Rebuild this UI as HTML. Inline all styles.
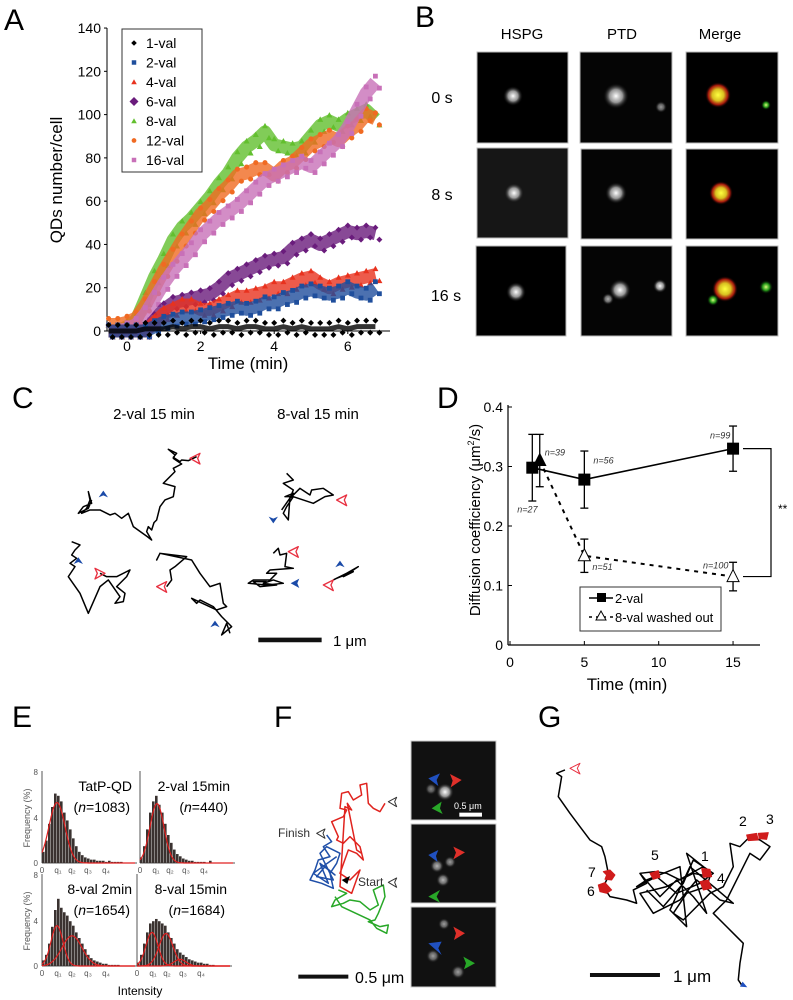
<!DOCTYPE html>
<html><head><meta charset="utf-8">
<style>
html,body{margin:0;padding:0;background:#fff;}
svg{display:block;font-family:"Liberation Sans",Arial,sans-serif;}
</style></head>
<body>
<svg id="fig" width="793" height="1000" viewBox="0 0 793 1000" xmlns="http://www.w3.org/2000/svg">
<defs>
 <radialGradient id="gw"><stop offset="0" stop-color="#fff"/><stop offset="0.5" stop-color="#bbb" stop-opacity="0.8"/><stop offset="1" stop-color="#000" stop-opacity="0"/></radialGradient>
 <radialGradient id="gy"><stop offset="0" stop-color="#ffff40"/><stop offset="0.45" stop-color="#d8c020"/><stop offset="0.75" stop-color="#d02010" stop-opacity="0.8"/><stop offset="1" stop-color="#000" stop-opacity="0"/></radialGradient>
 <radialGradient id="gg"><stop offset="0" stop-color="#e0ff80"/><stop offset="0.5" stop-color="#30c020" stop-opacity="0.8"/><stop offset="1" stop-color="#000" stop-opacity="0"/></radialGradient>
</defs>

<g font-size="30" fill="#000">
 <text x="4" y="30">A</text>
 <text x="415" y="27">B</text>
 <text x="12" y="408">C</text>
 <text x="437" y="408">D</text>
 <text x="12" y="727">E</text>
 <text x="274" y="727">F</text>
 <text x="538" y="727">G</text>
</g>

<g id="panelA"></g>

<g id="panelB" font-size="15">
 <text x="522" y="39" text-anchor="middle">HSPG</text>
 <text x="622" y="39" text-anchor="middle">PTD</text>
 <text x="720" y="39" text-anchor="middle">Merge</text>
 <text x="442" y="103" text-anchor="middle" font-size="16">0 s</text>
 <text x="442" y="200" text-anchor="middle" font-size="16">8 s</text>
 <text x="446" y="301" text-anchor="middle" font-size="16">16 s</text>
 <rect x="477" y="52" width="91" height="91" fill="#000" stroke="#bbb"/>
 <rect x="580" y="52" width="92" height="91" fill="#050505" stroke="#bbb"/>
 <rect x="686" y="52" width="92" height="91" fill="#000" stroke="#bbb"/>
 <rect x="477" y="148" width="91" height="90" fill="#161616" stroke="#bbb"/>
 <rect x="581" y="149" width="91" height="90" fill="#050505" stroke="#bbb"/>
 <rect x="686" y="149" width="92" height="90" fill="#000" stroke="#bbb"/>
 <rect x="476" y="246" width="90" height="90" fill="#000" stroke="#bbb"/>
 <rect x="581" y="246" width="91" height="90" fill="#050505" stroke="#bbb"/>
 <rect x="686" y="246" width="92" height="90" fill="#000" stroke="#bbb"/>
 <circle cx="513" cy="96" r="10" fill="url(#gw)"/>
 <circle cx="616" cy="96" r="13" fill="url(#gw)"/>
 <circle cx="661" cy="107" r="6" fill="url(#gw)" opacity="0.6"/>
 <circle cx="718" cy="95" r="13" fill="url(#gy)"/>
 <circle cx="766" cy="105" r="5" fill="url(#gg)"/>
 <circle cx="514" cy="193" r="10" fill="url(#gw)"/>
 <circle cx="616" cy="193" r="11" fill="url(#gw)"/>
 <circle cx="721" cy="193" r="12" fill="url(#gy)"/>
 <circle cx="516" cy="292" r="10" fill="url(#gw)"/>
 <circle cx="620" cy="290" r="11" fill="url(#gw)"/>
 <circle cx="608" cy="299" r="6" fill="url(#gw)" opacity="0.7"/>
 <circle cx="660" cy="286" r="7" fill="url(#gw)"/>
 <circle cx="725" cy="289" r="13" fill="url(#gy)"/>
 <circle cx="713" cy="300" r="6" fill="url(#gg)"/>
 <circle cx="766" cy="287" r="7" fill="url(#gg)"/>
</g>

<g>
 <text x="154" y="419" font-size="15" text-anchor="middle">2-val 15 min</text>
 <text x="318" y="419" font-size="15" text-anchor="middle">8-val 15 min</text>
 <g transform="translate(0,340) scale(0.3333)" fill="none" stroke="#000" stroke-width="4.5" stroke-linejoin="round">
  <polyline points="590,350 565,362 545,360 540,365 520,352 530,340 505,328 525,345 520,355 545,372 520,385 525,395 490,430 525,440 520,470 495,480 480,500 475,520 470,540 462,548 455,570 445,560 440,575 455,600 442,590 400,560 385,520 365,535 345,520 330,525 300,510 270,510 245,520 260,505 270,480 265,455 275,490 250,500 235,520 265,505 275,480"/>
  <polyline points="215,605 240,615 225,630 215,645 230,655 210,670 225,680 205,710 240,760 265,820 300,740 325,720 360,770 345,790 370,785 375,760 350,740 380,710 390,690 350,710 320,710 300,700"/>
  <polyline points="500,740 515,720 510,690 525,680 560,650 520,645 480,640 470,660 480,640 575,660 600,700 630,740 660,730 670,790 680,800 650,810 575,775 590,790 600,780 640,800 665,830 695,860 665,885 680,850 690,880"/>
  <polyline points="860,400 880,420 850,430 880,450 870,475 900,445 930,465 935,450 970,445 1000,465 975,470 940,490 880,470 860,500 850,520 865,540 870,470 855,470 880,460 845,510"/>
  <polyline points="820,640 835,625 840,645 860,640 855,680 880,685 810,690 800,700 830,700 810,720 760,720 745,730 800,735 850,730 820,720 790,730 830,735 780,740 760,725 800,725"/>
  <polyline points="1000,720 1040,700 1075,680 1030,710 1060,695 1010,715"/>
  <g fill="none" stroke="#e83040" stroke-width="4">
   <polygon points="570,355 600,340 593,355 600,372"/>
   <polygon points="1010,480 1040,465 1033,480 1040,497"/>
   <polygon points="865,635 895,620 888,635 895,652"/>
   <polygon points="315,700 285,685 292,700 285,717"/>
   <polygon points="470,740 500,725 493,740 500,757"/>
   <polygon points="970,735 1000,720 993,735 1000,752"/>
  </g>
  <g fill="#1a4aa8" stroke="none">
   <polygon points="310,452 296,472 310,466 324,472"/>
   <polygon points="235,652 221,672 235,666 249,672"/>
   <polygon points="645,842 631,862 645,856 659,862"/>
   <polygon points="1020,662 1006,682 1020,676 1034,682"/>
   <polygon points="820,550 806,530 820,536 834,530"/>
   <polygon points="872,730 898,716 892,730 898,744"/>
  </g>
  <line x1="775" y1="900" x2="965" y2="900" stroke="#111" stroke-width="14"/>
 </g>
 <text x="333" y="646" font-size="15">1 μm</text>
</g>

<g id="panelD"></g>
<g id="panelE"></g>

<g>
 <g transform="translate(260,680) scale(0.3333)" fill="none" stroke-width="4.5" stroke-linejoin="round">
  <polyline stroke="#e0231e" points="375,370 360,395 340,385 325,370 320,310 300,315 305,345 280,360 265,335 245,340 240,385 260,390 250,410 215,425 235,470 230,480 250,490 270,470 300,500 310,540 290,520 265,510 240,580 270,600 290,580 300,570 275,640 240,620 255,380 275,390 262,370 290,510 305,520"/>
  <polyline stroke="#1f4fa8" points="200,465 215,485 190,500 210,530 175,540 165,570 150,600 185,610 220,625 210,580 230,550 240,520 200,500 180,520 220,600 170,590 195,560 225,585 180,550 205,610 160,580 230,530"/>
  <polyline stroke="#28a828" points="235,630 260,640 225,660 215,680 250,670 270,660 300,665 330,690 355,675 340,630 370,615 375,650 355,700 345,720 325,725 360,740 385,735 380,760 350,745 330,720 245,680 225,650"/>
  <polygon points="245,600 270,588 262,612" fill="#000" stroke="none"/>
  <g stroke="#333" stroke-width="3">
   <polygon points="385,365 410,352 404,365 410,380"/>
   <polygon points="170,460 195,447 189,460 195,475"/>
   <polygon points="385,607 410,594 404,607 410,622"/>
  </g>
  <line x1="115" y1="890" x2="265" y2="890" stroke="#111" stroke-width="12"/>
 </g>
 <text x="278" y="837" font-size="12" fill="#333">Finish</text>
 <text x="358" y="886" font-size="12" fill="#333">Start</text>
 <text x="355" y="983" font-size="16">0.5 μm</text>
 <rect x="411" y="741" width="85" height="79" fill="#111" stroke="#ccc"/>
 <rect x="411" y="824" width="85" height="79" fill="#111" stroke="#ccc"/>
 <rect x="411" y="907" width="85" height="80" fill="#111" stroke="#ccc"/>
 <circle cx="445" cy="792" r="9" fill="url(#gw)"/>
 <circle cx="431" cy="789" r="6" fill="url(#gw)" opacity="0.5"/>
 <circle cx="437" cy="866" r="7" fill="url(#gw)" opacity="0.7"/>
 <circle cx="443" cy="880" r="7" fill="url(#gw)" opacity="0.7"/>
 <circle cx="450" cy="862" r="6" fill="url(#gw)" opacity="0.6"/>
 <circle cx="444" cy="924" r="6" fill="url(#gw)" opacity="0.6"/>
 <circle cx="433" cy="956" r="7" fill="url(#gw)" opacity="0.6"/>
 <circle cx="458" cy="972" r="7" fill="url(#gw)" opacity="0.6"/>
 <g transform="translate(260,680) scale(0.3333)" stroke="none">
  <polygon points="505,295 540,280 530,300 535,318" fill="#2050c0"/>
  <polygon points="605,300 570,282 578,302 572,322" fill="#e0302a"/>
  <polygon points="515,385 545,365 540,385 548,402" fill="#28a828"/>
  <rect x="598" y="398" width="68" height="12" fill="#fff"/>
  <polygon points="505,525 535,510 528,528 533,546" fill="#2050c0"/>
  <polygon points="615,517 580,500 588,518 580,538" fill="#e0302a"/>
  <polygon points="505,650 540,630 530,650 540,668" fill="#28a828"/>
  <polygon points="505,790 545,785 535,805 545,825" fill="#2050c0"/>
  <polygon points="615,760 580,740 588,760 582,780" fill="#e0302a"/>
  <polygon points="645,850 610,830 618,850 612,868" fill="#28a828"/>
 </g>
 <text x="454" y="809" font-size="9" fill="#fff">0.5 μm</text>
</g>

<g>
 <g transform="translate(260,680) scale(0.3333)" fill="none" stroke="#000" stroke-width="4.5" stroke-linejoin="round">
  <polyline points="915,270 890,280 905,290 895,350 930,400 960,440 990,480 1025,500 1035,530 1045,580 1040,600 1030,620 1050,650 1100,660 1130,670 1120,630 1160,610 1140,580 1185,575 1220,580 1260,600 1300,580 1350,590 1340,620 1280,640 1240,700 1270,720 1300,690 1350,640 1390,620 1420,560 1410,490 1440,500 1470,470 1500,480 1530,500 1500,540 1470,520 1440,580 1400,660 1360,700 1400,740 1420,760 1450,790 1440,850 1435,900 1445,915"/>
  <polyline points="1140,580 1200,650 1250,600 1300,650 1340,700 1280,520 1330,560 1220,620 1140,640 1180,700 1260,660 1310,600 1380,660 1420,670 1290,560 1230,690 1280,740 1260,560 1160,600 1130,620 1190,590 1250,640 1320,610 1360,580 1300,540 1270,610 1210,680 1160,630"/>
  <polygon points="930,265 960,250 952,265 960,282" stroke="#e83040" stroke-width="3"/>
  <g fill="#d01c1c" stroke="#d01c1c" stroke-width="3">
   <polygon points="1030,575 1050,570 1065,585 1055,600 1035,598 1040,585"/>
   <polygon points="1015,615 1035,608 1055,630 1040,640 1020,635"/>
   <polygon points="1170,580 1195,572 1200,592 1180,598"/>
   <polygon points="1325,565 1350,568 1355,590 1330,592"/>
   <polygon points="1320,605 1345,600 1355,625 1330,630"/>
   <polygon points="1460,465 1490,460 1495,480 1465,482"/>
   <polygon points="1495,460 1525,458 1520,478 1498,476"/>
  </g>
  <polygon points="1440,920 1462,922 1448,905" fill="#2050c0" stroke="none"/>
  <line x1="990" y1="885" x2="1200" y2="885" stroke="#111" stroke-width="12"/>
 </g>
 <g font-size="14">
  <text x="739" y="826">2</text>
  <text x="766" y="824">3</text>
  <text x="651" y="860">5</text>
  <text x="701" y="861">1</text>
  <text x="717" y="883">4</text>
  <text x="588" y="877">7</text>
  <text x="587" y="896">6</text>
 </g>
 <text x="673" y="982" font-size="17">1 μm</text>
</g>

<script>
// ---------- Panel A data ----------
const aTimes = [-0.5,-0.25,0,0.25,0.5,0.75,1,1.25,1.5,1.75,2,2.25,2.5,2.75,3,3.25,3.5,3.75,4,4.25,4.5,4.75,5,5.25,5.5,5.75,6,6.25,6.5,6.75];
const aNames = ["1-val","2-val","4-val","6-val","8-val","12-val","16-val"];
const val1  = [0,0,0,0,1,1,1,2,1,2,2,1,2,2,1,2,2,1,1,2,1,2,1,1,1,2,1,2,2,2];
const val2  = [0,0,0,0,0,2,4,5,6,6,7,8,9,10,11,10,11,13,13,15,16,18,19,18,17,18,20,18,17,20];
const val4  = [0,0,0,0,0,4,8,10,12,12,10,10,12,14,16,16,17,18,20,20,22,24,25,22,20,22,23,24,25,26];
const val6  = [0,0,0,0,0,5,10,13,14,15,16,17,20,24,26,28,30,32,33,34,38,40,42,40,42,44,46,45,46,45];
const val8  = [0,0,2,5,15,25,33,42,48,52,57,62,68,73,80,85,88,92,86,85,84,85,90,95,97,95,98,100,102,98];
const val12 = [3,3,4,6,12,20,28,35,42,48,54,58,63,67,72,73,75,75,72,76,78,82,86,88,90,88,92,95,100,98];
const val16 = [0,0,1,3,8,15,22,28,33,38,44,48,52,55,58,62,66,70,72,74,76,78,76,80,84,88,94,102,110,115];
const aYTicks = [0,20,40,60,80,100,120,140];
const aXTicks = [0,2,4,6];

// ---------- Panel D data ----------
const dTimes2 = [1.5,5,15];
const dVals2 = [0.298,0.278,0.33];
const dErr2 = [0.056,0.048,0.038];
const dN2 = ["n=27","n=56","n=99"];
const dTimes8 = [2,5,15];
const dVals8 = [0.31,0.15,0.115];
const dErr8 = [0.044,0.028,0.024];
const dN8 = ["n=39","n=51","n=100"];
const dYTicks = [0,0.1,0.2,0.3,0.4];
const dXTicks = [0,5,10,15];

// ---------- Panel E data ----------
const eTitles = ["TatP-QD","2-val 15min","8-val 2min","8-val 15min"];
const eCounts = ["1083","440","1654","1684"];
const eHist1 = [1,2,3.5,5,6.2,6,5.5,4.5,3.8,3,2.2,1.5,1,0.7,0.5,0.4,0.3,0.3,0.2,0.2,0.2,0.1,0.2,0.1,0.1,0.1,0.1,0,0,0];
const eHist2 = [0.5,1.5,3,4.5,5.5,6,5.2,4.5,3.5,2.5,1.8,1.2,0.8,0.6,0.4,0.3,0.2,0.2,0.1,0.1,0.1,0.1,0,0.2,0,0,0,0,0,0];
const eHist3 = [0.5,1,2,3.5,5,6,5.2,4.8,4.5,4,3.6,3,2.5,2,1.5,1,0.7,0.5,0.4,0.3,0.2,0.2,0.1,0.1,0.1,0.1,0,0,0,0];
const eHist4 = [0.3,1,2,3,3.8,4,4.2,4,3.8,3.6,3,2.5,2,1.5,1.2,1,0.8,0.6,0.5,0.4,0.3,0.3,0.2,0.2,0.1,0.1,0,0,0,0];

const NS = "http://www.w3.org/2000/svg";
function mk(parent, tag, attrs, text){
  const el = document.createElementNS(NS, tag);
  for (const k in attrs) el.setAttribute(k, attrs[k]);
  if (text !== undefined) el.textContent = text;
  parent.appendChild(el);
  return el;
}

// ---------- Panel A ----------
(function(){
  const g = document.getElementById('panelA');
  const x = t => 127 + t*36.8;
  const y = v => 331 - v*2.164;
  mk(g,'line',{x1:107,y1:28,x2:107,y2:331,stroke:'#000','stroke-width':1});
  mk(g,'line',{x1:107,y1:331,x2:390,y2:331,stroke:'#000','stroke-width':1});
  aYTicks.forEach(v=>{
    mk(g,'line',{x1:104,y1:y(v),x2:107,y2:y(v),stroke:'#000'});
    const t = mk(g,'text',{x:101,y:y(v)+5,'font-size':14,'text-anchor':'end'},String(v));
    
    
  });
  aXTicks.forEach(v=>{
    mk(g,'line',{x1:x(v),y1:331,x2:x(v),y2:334,stroke:'#000'});
    const t = mk(g,'text',{x:x(v),y:351,'font-size':14,'text-anchor':'middle'},String(v));
    
    
  });
  const xt = mk(g,'text',{x:248,y:369,'font-size':17,'text-anchor':'middle'},'Time (min)');
  
  
  const yt = mk(g,'text',{x:0,y:0,'font-size':17,'text-anchor':'middle',transform:'translate(62,180) rotate(-90)'},'QDs number/cell');
  
  

  const series = [
    {vals:val8,color:'#62bf2e',m:'tri',name:'8-val'},
    {vals:val12,color:'#f06a22',m:'circ',name:'12-val'},
    {vals:val16,color:'#c870b8',m:'sq',name:'16-val'},
    {vals:val6,color:'#6a1c7c',m:'dia',name:'6-val'},
    {vals:val4,color:'#e8321e',m:'tri',name:'4-val'},
    {vals:val2,color:'#1f4e9c',m:'sq',name:'2-val'},
    {vals:val1,color:'#000',m:'dia',name:'1-val'}
  ];
  function marker(p, type, cx, cy, col, s){
    if(type==='tri') return mk(p,'polygon',{points:`${cx},${cy-s} ${cx-s},${cy+s*0.8} ${cx+s},${cy+s*0.8}`,fill:col});
    if(type==='circ') return mk(p,'circle',{cx:cx,cy:cy,r:s*0.85,fill:col});
    if(type==='sq') return mk(p,'rect',{x:cx-s*0.8,y:cy-s*0.8,width:s*1.6,height:s*1.6,fill:col});
    return mk(p,'polygon',{points:`${cx},${cy-s} ${cx+s},${cy} ${cx},${cy+s} ${cx-s},${cy}`,fill:col});
  }
  series.forEach(s=>{
    const sg = mk(g,'g',{});
    
    
    const pts = aTimes.map((t,i)=>x(t)+','+y(s.vals[i])).join(' ');
    mk(sg,'polyline',{points:pts,fill:'none',stroke:s.color,'stroke-width':s.name==='1-val'?5:13,'stroke-linejoin':'round','stroke-opacity':0.8});
    aTimes.forEach((t,i)=>{
      const m = marker(sg,s.m,x(t),y(s.vals[i])-6,s.color,3);
      
      
      const m2 = marker(sg,s.m,x(t)+4,y(s.vals[i])+6,s.color,3);
      
      
    });
  });
  const lg = mk(g,'g',{});
  
  
  mk(lg,'rect',{x:122,y:29,width:80,height:143,fill:'#fff',stroke:'#333','stroke-width':1});
  const legM = [['dia','#000'],['sq','#1f4e9c'],['tri','#e8321e'],['dia','#6a1c7c'],['tri','#62bf2e'],['circ','#f06a22'],['sq','#c870b8']];
  aNames.forEach((n,i)=>{
    const yy = 43 + i*19.5;
    const sz = n==='6-val'?4.5:2.8;
    marker(lg,legM[i][0],134,yy,legM[i][1],sz);
    const t = mk(lg,'text',{x:146,y:yy+5,'font-size':14},n);
    
    
  });
})();

// ---------- Panel D ----------
(function(){
  const g = document.getElementById('panelD');
  const x = t => 510 + t*14.87;
  const y = v => 645 - v*595;
  mk(g,'line',{x1:508,y1:405,x2:508,y2:645,stroke:'#000','stroke-width':1.2});
  mk(g,'line',{x1:508,y1:645,x2:760,y2:645,stroke:'#000','stroke-width':1.2});
  dYTicks.forEach(v=>{
    mk(g,'line',{x1:508,y1:y(v),x2:512,y2:y(v),stroke:'#000'});
    const t = mk(g,'text',{x:503,y:y(v)+5,'font-size':14,'text-anchor':'end'},String(v));
    
    
  });
  dXTicks.forEach(v=>{
    mk(g,'line',{x1:x(v),y1:645,x2:x(v),y2:641,stroke:'#000'});
    const t = mk(g,'text',{x:x(v),y:667,'font-size':14,'text-anchor':'middle'},String(v));
    
    
  });
  const xt = mk(g,'text',{x:627,y:690,'font-size':17,'text-anchor':'middle'},'Time (min)');
  
  
  const yt = mk(g,'text',{x:0,y:0,'font-size':15,'text-anchor':'middle',transform:'translate(480,520) rotate(-90)'});
  
  
  mk(yt,'tspan',{},'Diffusion coefficiency (μm');
  mk(yt,'tspan',{'font-size':9,dy:-6},'2');
  mk(yt,'tspan',{dy:6},'/s)');
  const l8 = mk(g,'polyline',{points:dTimes8.map((t,i)=>x(t)+','+y(dVals8[i])).join(' '),fill:'none',stroke:'#000','stroke-width':2,'stroke-dasharray':'4,5'});
  
  
  const l2 = mk(g,'polyline',{points:dTimes2.map((t,i)=>x(t)+','+y(dVals2[i])).join(' '),fill:'none',stroke:'#000','stroke-width':1.6});
  
  
  function err(t,v,e){
    const cx=x(t);
    mk(g,'line',{x1:cx,y1:y(v+e),x2:cx,y2:y(v-e),stroke:'#000','stroke-width':1.3});
    mk(g,'line',{x1:cx-4,y1:y(v+e),x2:cx+4,y2:y(v+e),stroke:'#000','stroke-width':1.3});
    mk(g,'line',{x1:cx-4,y1:y(v-e),x2:cx+4,y2:y(v-e),stroke:'#000','stroke-width':1.3});
  }
  dTimes2.forEach((t,i)=>{
    err(t,dVals2[i],dErr2[i]);
    const r = mk(g,'rect',{x:x(t)-6,y:y(dVals2[i])-6,width:12,height:12,fill:'#000'});
    
    
  });
  dTimes8.forEach((t,i)=>{
    err(t,dVals8[i],dErr8[i]);
    const cx=x(t), cy=y(dVals8[i]);
    const p = mk(g,'polygon',{points:`${cx},${cy-7} ${cx-6},${cy+5} ${cx+6},${cy+5}`,fill:i===0?'#000':'#fff',stroke:'#000','stroke-width':1});
    
    
  });
  const nl = [[x(dTimes2[0])-15,y(dVals2[0])+45,dN2[0]],[x(dTimes2[1])+9,y(dVals2[1])-16,dN2[1]],[x(dTimes2[2])-23,y(dVals2[2])-10,dN2[2]],
              [x(dTimes8[0])+5,y(dVals8[0])-5,dN8[0]],[x(dTimes8[1])+8,y(dVals8[1])+14,dN8[1]],[x(dTimes8[2])-30,y(dVals8[2])-8,dN8[2]]];
  nl.forEach(a=>{
    const t = mk(g,'text',{x:a[0],y:a[1],'font-size':9,'font-style':'italic',fill:'#333'},a[2]);
    
    
  });
  mk(g,'polyline',{points:`743,${y(dVals2[2])} 771,${y(dVals2[2])} 771,${y(dVals8[2])} 743,${y(dVals8[2])}`,fill:'none',stroke:'#000','stroke-width':1.2});
  mk(g,'text',{x:778,y:513,'font-size':12},'**');
  const lg = mk(g,'g',{});
  
  
  mk(lg,'rect',{x:580,y:587,width:141,height:44,fill:'#fff',stroke:'#333'});
  mk(lg,'line',{x1:589,y1:598,x2:613,y2:598,stroke:'#000','stroke-width':1.5});
  mk(lg,'rect',{x:597,y:593,width:9,height:9,fill:'#000'});
  mk(lg,'text',{x:615,y:603,'font-size':13},'2-val');
  mk(lg,'line',{x1:589,y1:617,x2:613,y2:617,stroke:'#000','stroke-width':1.5,'stroke-dasharray':'3,4'});
  mk(lg,'polygon',{points:'601,611 596,620 606,620',fill:'#fff',stroke:'#000'});
  mk(lg,'text',{x:615,y:622,'font-size':13},'8-val washed out');
})();

// ---------- Panel E ----------
(function(){
  const g = document.getElementById('panelE');
  const panels = [
    {x0:42, yb:863, fits:[[57,5.4,8]]},
    {x0:140,yb:863, fits:[[157,5.3,7]]},
    {x0:42, yb:966, fits:[[57,3.6,6],[72,2.7,10]]},
    {x0:137,yb:966, fits:[[152,3,6],[166,2.9,7],[180,0.6,6]]}
  ];
  const hist = [eHist1,eHist2,eHist3,eHist4];
  panels.forEach((p,k)=>{
    const sg = mk(g,'g',{});
    
    
    const yS = v => p.yb - v*11.2;
    mk(sg,'line',{x1:p.x0,y1:p.yb-92,x2:p.x0,y2:p.yb,stroke:'#555'});
    mk(sg,'line',{x1:p.x0,y1:p.yb,x2:p.x0+95,y2:p.yb,stroke:'#555'});
    hist[k].forEach((v,i)=>{
      const b = mk(sg,'rect',{x:p.x0+i*3,y:yS(v),width:2.6,height:p.yb-yS(v),fill:'#3a3230'});
      
      
    });
    p.fits.forEach(f=>{
      let d='';
      for(let xx=p.x0; xx<=p.x0+93; xx+=1){
        const v = f[1]*Math.exp(-Math.pow((xx-f[0])/f[2],2)/2);
        d += (d?'L':'M')+xx+','+yS(v).toFixed(1);
      }
      mk(sg,'path',{d:d,fill:'none',stroke:'#e02020','stroke-width':1.2});
    });
    if(k%2===0){
      mk(sg,'text',{x:p.x0-4,y:p.yb-88,'font-size':8,'text-anchor':'end',fill:'#555'},'8');
      mk(sg,'text',{x:p.x0-4,y:p.yb-42,'font-size':8,'text-anchor':'end',fill:'#555'},'4');
      mk(sg,'text',{x:p.x0-4,y:p.yb+3,'font-size':8,'text-anchor':'end',fill:'#555'},'0');
      mk(sg,'text',{x:0,y:0,'font-size':9,'text-anchor':'middle',fill:'#555',transform:`translate(${p.x0-12},${p.yb-45}) rotate(-90)`},'Frequency (%)');
    }
    ['0','q₁','q₂','q₃','q₄'].forEach((s,i)=>{
      mk(sg,'text',{x:p.x0+[0,16,30,46,64][i],y:p.yb+10,'font-size':8,'text-anchor':'middle',fill:'#555'},s);
    });
    const tt = mk(sg,'text',{x:p.x0+90,y:p.yb-72,'font-size':14,'text-anchor':'end'},eTitles[k]);
    
    
    const nt = mk(sg,'text',{x:p.x0+88,y:p.yb-51,'font-size':14,'text-anchor':'end'});
    
    
    mk(nt,'tspan',{},'(');
    mk(nt,'tspan',{'font-style':'italic'},'n');
    mk(nt,'tspan',{},'='+eCounts[k]+')');
  });
  const xt = mk(g,'text',{x:140,y:995,'font-size':12,'text-anchor':'middle'},'Intensity');
  
  
})();
</script>
</svg>
</body></html>
